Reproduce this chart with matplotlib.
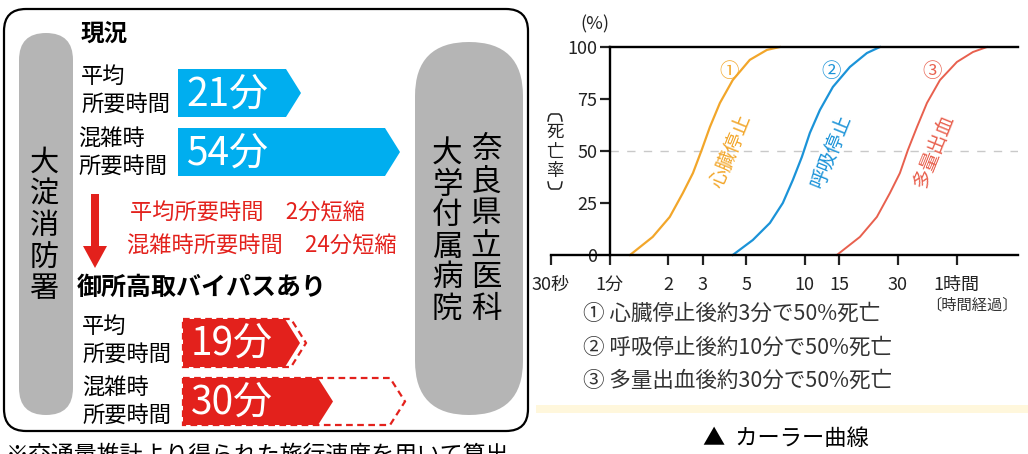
import numpy as np
import matplotlib
matplotlib.use('Agg')
import matplotlib.pyplot as plt
from matplotlib.patches import FancyBboxPatch, Polygon, FancyArrow, Rectangle

plt.rcParams['font.family'] = ['Noto Sans CJK JP', 'DejaVu Sans']

# --- left panel data (minutes) ---
now_avg = 21
now_peak = 54
new_avg = 19
new_peak = 30
saved_avg = now_avg - new_avg
saved_peak = now_peak - new_peak

# --- Carr curve data: minutes after event, death rate (%) ---
heart_t = [1.27, 1.66, 2.03, 2.37, 2.67, 2.96, 3.26, 3.67, 4.27, 5.22, 6.39, 7.44]
heart_p = [0, 8.7, 18.3, 29.8, 39.4, 50.5, 61.5, 73.1, 84.1, 93.8, 98.6, 100]
breath_t = [4.27, 5.41, 6.62, 7.71, 8.68, 9.65, 10.61, 11.94, 13.92, 17.01, 20.8, 24.25]
breath_p = [0, 7.2, 15.4, 25.0, 36.1, 47.1, 58.7, 69.7, 80.8, 90.4, 97.1, 100]
bleed_t = [14.59, 19.15, 23.39, 27.29, 30.7, 33.74, 37.54, 42.25, 49.25, 60.15, 72.72, 85.78]
bleed_p = [0, 8.7, 18.3, 29.8, 39.4, 50.5, 61.5, 73.1, 84.1, 92.8, 97.6, 100]

x_ticks = [0.5, 1, 2, 3, 5, 10, 15, 30, 60]
x_labels = ['30秒', '1分', '2', '3', '5', '10', '15', '30', '1時間']
y_ticks = [0, 25, 50, 75, 100]
x_max = 123.7

ORANGE = '#F2A62A'
BLUE = '#1B93D8'
CORAL = '#E8604E'
CYAN = '#00AEEF'
RED = '#E3211C'
GRAY = '#B5B5B5'

fig = plt.figure(figsize=(10.28, 4.54), dpi=100)
bg = fig.add_axes([0, 0, 1, 1])
bg.set_xlim(0, 1028)
bg.set_ylim(454, 0)
bg.axis('off')

# frame + pills
bg.add_patch(FancyBboxPatch((4, 9), 524, 422, boxstyle='round,pad=0,rounding_size=22',
                            fc='white', ec='black', lw=1.6))
bg.add_patch(FancyBboxPatch((19, 33), 54, 382, boxstyle='round,pad=0,rounding_size=27',
                            fc=GRAY, ec='none'))
bg.add_patch(FancyBboxPatch((415, 42), 108, 373, boxstyle='round,pad=0,rounding_size=54',
                            fc=GRAY, ec='none'))

for i, ch in enumerate('大淀消防署'):
    bg.text(44, 163 + i * 31.5, ch, fontsize=21, ha='center', va='center')
for i, ch in enumerate('奈良県立医科'):
    bg.text(486, 150 + i * 32, ch, fontsize=22, ha='center', va='center')
for i, ch in enumerate('大学付属病院'):
    bg.text(447, 154 + i * 31, ch, fontsize=22, ha='center', va='center')


def bar_len(v):
    return 45 + 3.0 * v


def arrow_shape(x0, top, bot, v):
    xe = x0 + bar_len(v)
    mid = (top + bot) / 2
    return [(x0, top), (xe, top), (xe + 15, mid), (xe, bot), (x0, bot)]


# current situation
bg.text(81, 35, '現況', fontsize=17, fontweight='bold', ha='left', va='center')
bg.text(81, 76, '平均', fontsize=16, ha='left', va='center')
bg.text(81, 104, '所要時間', fontsize=16, ha='left', va='center')
bg.text(78, 138, '混雑時', fontsize=16, ha='left', va='center')
bg.text(78, 166, '所要時間', fontsize=16, ha='left', va='center')

bg.add_patch(Polygon(arrow_shape(178, 69, 117, now_avg), closed=True, fc=CYAN, ec='none'))
bg.add_patch(Polygon(arrow_shape(178, 128, 176, now_peak), closed=True, fc=CYAN, ec='none'))
bg.text(186, 95, f'{now_avg}分', fontsize=28, color='white', ha='left', va='center')
bg.text(186, 154, f'{now_peak}分', fontsize=28, color='white', ha='left', va='center')

# down arrow + savings
bg.add_patch(FancyArrow(95, 194, 0, 74, width=8, head_width=24, head_length=22,
                        length_includes_head=True, fc=RED, ec='none'))
bg.text(130, 213, f'平均所要時間　{saved_avg}分短縮', fontsize=16, color=RED,
        ha='left', va='center')
bg.text(127, 246, f'混雑時所要時間　{saved_peak}分短縮', fontsize=16, color=RED,
        ha='left', va='center')

# with bypass
bg.text(77, 288, '御所高取バイパスあり', fontsize=18, fontweight='bold', ha='left', va='center')
bg.text(82, 326, '平均', fontsize=16, ha='left', va='center')
bg.text(82, 354, '所要時間', fontsize=16, ha='left', va='center')
bg.text(82, 387, '混雑時', fontsize=16, ha='left', va='center')
bg.text(82, 415, '所要時間', fontsize=16, ha='left', va='center')

bg.add_patch(Polygon(arrow_shape(183, 319, 367, now_avg), closed=True, fill=False,
                     ec=RED, lw=1.6, ls=(0, (3, 2))))
bg.add_patch(Polygon(arrow_shape(183, 378, 425, now_peak), closed=True, fill=False,
                     ec=RED, lw=1.6, ls=(0, (3, 2))))
bg.add_patch(Polygon(arrow_shape(183, 319, 367, new_avg), closed=True, fc=RED, ec='none',
                     zorder=3))
bg.add_patch(Polygon(arrow_shape(183, 378, 425, new_peak), closed=True, fc=RED, ec='none',
                     zorder=3))
bg.text(191, 344, f'{new_avg}分', fontsize=28, color='white', ha='left', va='center', zorder=4)
bg.text(191, 403, f'{new_peak}分', fontsize=28, color='white', ha='left', va='center', zorder=4)

# footnote, cut by the bottom edge as in the source image
bg.text(6, 444, '※交通量推計より得られた旅行速度を用いて算出', fontsize=16.5,
        ha='left', va='top')

# right side decorations
bg.add_patch(Rectangle((536, 405), 492, 8, fc='#FFF7DC', ec='none'))
bg.text(786, 438, '▲  カーラー曲線', fontsize=16, ha='center', va='center')
bg.text(595, 24, '(%)', fontsize=13, ha='center', va='center', color='#222')

# vertical y label with bracket shapes
bg.plot([548, 549, 551, 559, 561, 562], [121, 116, 114, 114, 116, 121], color='#222', lw=1.1)
bg.plot([548, 549, 551, 559, 561, 562], [182, 187, 189, 189, 187, 182], color='#222', lw=1.1)
for i, ch in enumerate('死亡率'):
    bg.text(555, 132 + i * 19.5, ch, fontsize=12.5, ha='center', va='center', color='#222')
bg.text(972, 305, '〔時間経過〕', fontsize=11, ha='center', va='center', color='#333')

notes = ['① 心臓停止後約3分で50%死亡', '② 呼吸停止後約10分で50%死亡', '③ 多量出血後約30分で50%死亡']
for i, s in enumerate(notes):
    bg.text(583, 314 + i * 33.5, s, fontsize=15.5, ha='left', va='center', color='#333')

# Carr curve chart
ax = fig.add_axes([551 / 1028, 1 - 255 / 454, 467 / 1028, 208 / 454])
ax.set_xscale('log')
ax.set_xlim(0.5, x_max)
ax.set_ylim(0, 100)
ax.patch.set_alpha(0)

ax.hlines(50, 1, x_max, colors='#C9C9C9', lw=1.0, linestyles=(0, (6, 6)))
ax.plot(heart_t, heart_p, color=ORANGE, lw=1.6, clip_on=False)
ax.plot(breath_t, breath_p, color=BLUE, lw=1.6, clip_on=False)
ax.plot(bleed_t, bleed_p, color=CORAL, lw=1.4, clip_on=False)

ax.spines['right'].set_visible(False)
ax.spines['left'].set_position(('data', 1))
ax.spines['left'].set_bounds(0, 100)
ax.spines['top'].set_bounds(1, x_max)
for s in ['left', 'top', 'bottom']:
    ax.spines[s].set_linewidth(1.7)

ax.xaxis.set_minor_locator(plt.NullLocator())
ax.set_xticks(x_ticks)
ax.set_xticklabels(x_labels)
ax.set_yticks(y_ticks)
ax.set_yticklabels([str(v) for v in y_ticks])
ax.tick_params(axis='x', length=7, width=1.6, pad=8, labelsize=13, colors='#222')
ax.tick_params(axis='y', length=7, width=1.6, pad=2, labelsize=13, colors='#222')
ax.yaxis.get_major_ticks()[0].tick1line.set_visible(False)

# curve labels
ax.text(4.1, 88, '①', color=ORANGE, fontsize=14, ha='center', va='center')
ax.text(13.7, 88, '②', color=BLUE, fontsize=14, ha='center', va='center')
ax.text(45, 88, '③', color=CORAL, fontsize=14, ha='center', va='center')
ax.text(4.2, 50, '心臓停止', color=ORANGE, fontsize=14, rotation=68, ha='center', va='center')
ax.text(13.7, 50, '呼吸停止', color=BLUE, fontsize=14, rotation=68, ha='center', va='center')
ax.text(46, 50, '多量出血', color=CORAL, fontsize=14, rotation=68, ha='center', va='center')

fig.savefig('out.png', dpi=100)
